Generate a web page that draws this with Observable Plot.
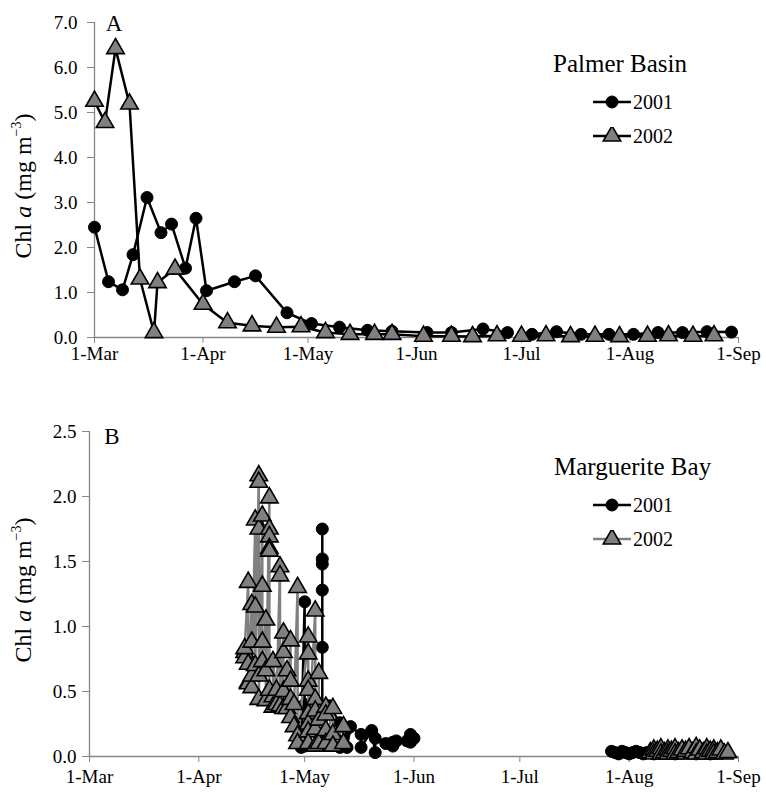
<!DOCTYPE html>
<html><head><meta charset="utf-8">
<script src="https://cdn.jsdelivr.net/npm/d3@7"></script>
<script src="https://cdn.jsdelivr.net/npm/@observablehq/plot@0.6"></script>
<style>
body{margin:0;background:#fff;font-family:"Liberation Serif","Times New Roman",serif;color:#000;}
#wrap{position:relative;width:766px;height:792px;overflow:hidden;font-family:"Liberation Serif","Times New Roman",serif;}
#wrap svg text{font-family:"Liberation Serif","Times New Roman",serif !important;}
.panel{position:absolute;left:0;}
.ylab{position:absolute;font-size:24px;transform:translate(-50%,-50%) rotate(-90deg);white-space:nowrap;line-height:1;font-family:"Liberation Serif",serif;}
.ylab sup{font-size:14px;vertical-align:10px;line-height:0;}
.plab{position:absolute;font-size:23px;transform:translate(-50%,-50%);line-height:1;font-family:"Liberation Serif",serif;}
.legtitle{position:absolute;font-size:25px;line-height:1;white-space:nowrap;transform:translateY(-50%);font-family:"Liberation Serif",serif;}
.legrow{position:absolute;font-size:20px;line-height:1;display:flex;align-items:center;transform:translateY(-50%);font-family:"Liberation Serif",serif;}
.legrow svg{display:block;margin-right:2px;}
</style>
</head><body>
<div id="wrap"></div>
<script>
// ---------- data ----------
const monthTicks = ["03-01","04-01","05-01","06-01","07-01","08-01","09-01"];
const monthLabels = ["1-Mar","1-Apr","1-May","1-Jun","1-Jul","1-Aug","1-Sep"];
const yTicksA = [0,1,2,3,4,5,6,7];
const yTicksB = [0,0.5,1,1.5,2,2.5];
const seriesNames = ["2001","2002"];

// Panel A: Palmer Basin
const pb2001Dates = ["03-01","03-05","03-09","03-12","03-16","03-20","03-23","03-27","03-30","04-02","04-10","04-16","04-25","05-02","05-10","05-18","05-25","06-04","06-11","06-20","06-27","07-04","07-11","07-18","07-26","08-02","08-09","08-16","08-23","08-30"];
const pb2001Vals  = [2.45,1.24,1.06,1.84,3.11,2.33,2.52,1.54,2.65,1.04,1.24,1.37,0.55,0.31,0.23,0.16,0.14,0.11,0.11,0.19,0.11,0.07,0.13,0.07,0.07,0.07,0.11,0.11,0.13,0.12];
const pb2002Dates = ["03-01","03-04","03-07","03-11","03-14","03-18","03-19","03-24","04-01","04-08","04-15","04-22","04-29","05-06","05-13","05-20","05-25","06-03","06-11","06-17","06-24","07-01","07-08","07-15","07-22","07-29","08-06","08-12","08-19","08-25"];
const pb2002Vals  = [5.25,4.78,6.42,5.19,1.30,0.11,1.22,1.52,0.74,0.33,0.26,0.23,0.24,0.11,0.07,0.07,0.07,0.03,0.03,0.02,0.04,0.03,0.04,0.02,0.03,0.02,0.03,0.04,0.03,0.04];

// Panel B: Marguerite Bay
const mb2001Dates = ["04-30","05-01","05-01","05-01","05-06","05-06","05-06","05-06","05-06","05-06","05-06","05-06","05-08","05-11","05-11","05-13","05-13","05-14","05-17","05-17","05-20","05-21","05-21","05-24","05-26","05-26","05-27","05-30","05-31","05-31","06-01",
  "07-27","07-28","07-29","07-30","07-31","08-01","08-02","08-03","08-04","08-05","08-06","08-08","08-10","08-12","08-14","08-16","08-18","08-20","08-22","08-24"];
const mb2001Vals  = [0.07,1.19,0.40,0.08,0.10,0.84,1.28,1.48,1.52,1.75,0.30,0.12,0.39,0.26,0.07,0.21,0.07,0.23,0.17,0.07,0.20,0.03,0.14,0.10,0.11,0.08,0.12,0.12,0.17,0.11,0.14,
  0.04,0.03,0.02,0.04,0.03,0.02,0.03,0.04,0.03,0.02,0.03,0.02,0.03,0.04,0.02,0.03,0.04,0.02,0.03,0.02];
const mb2002Dates = ["04-14","04-14","04-14","04-15","04-15","04-15","04-15","04-16","04-16","04-16","04-16","04-17","04-17","04-17","04-18","04-18","04-18","04-18","04-18","04-19","04-19","04-19","04-19","04-20","04-20","04-20",
  "04-21","04-21","04-21","04-21","04-21","04-21","04-22","04-22","04-22","04-23","04-23","04-24","04-24","04-24","04-25","04-25","04-25","04-25","04-26","04-26","04-27","04-27","04-27","04-27","04-28","04-28","04-29","04-29","04-29",
  "05-02","05-02","05-02","05-02","05-02","05-02","05-02","05-02","05-04","05-04","05-04","05-04","05-04","05-05","05-05","05-05","05-07","05-07","05-07","05-07","05-09","05-09","05-09","05-12","05-12",
  "08-07","08-08","08-08","08-09","08-10","08-10","08-11","08-12","08-12","08-13","08-14","08-14","08-15","08-16","08-17","08-17","08-18","08-19","08-20","08-20","08-21","08-22","08-23","08-23","08-24","08-25","08-25","08-26","08-27","08-28","08-29"];
const mb2002Vals  = [0.80,0.76,0.83,1.34,0.71,0.57,0.56,1.17,0.88,0.53,0.62,1.82,1.15,0.70,2.16,2.11,1.75,0.62,0.44,1.85,1.31,0.88,0.73,1.05,0.66,0.43,
  1.99,1.75,1.69,1.60,1.58,0.51,0.46,0.38,0.73,0.51,0.40,1.46,1.39,0.39,0.95,0.80,0.50,0.37,0.66,0.37,0.89,0.58,0.44,0.30,0.23,0.40,1.30,0.16,0.10,
  0.92,0.79,0.58,0.51,0.33,0.25,0.19,0.10,1.12,0.44,0.35,0.21,0.08,0.28,0.64,0.10,0.38,0.32,0.20,0.10,0.37,0.17,0.08,0.23,0.10,
  0.03,0.05,0.02,0.04,0.06,0.02,0.03,0.05,0.02,0.04,0.06,0.02,0.03,0.05,0.02,0.04,0.06,0.03,0.07,0.02,0.05,0.03,0.06,0.02,0.04,0.05,0.02,0.03,0.05,0.02,0.03];

// ---------- helpers ----------
const parse = s => new Date(Date.UTC(2001, +s.slice(0,2) - 1, +s.slice(3,5)));
const rows = (dates, vals) => dates.map((d, i) => ({date: parse(d), value: vals[i], period: +d.slice(0,2) >= 7 ? "late" : "early"}));
const tickDates = monthTicks.map(parse);
const labelMap = new Map(tickDates.map((d, i) => [+d, monthLabels[i]]));
const xDomain = [tickDates[0], tickDates[tickDates.length - 1]];
const AXIS = "#868686";
const FONT = '"Liberation Serif","Times New Roman",serif';
const fmt1 = d3.format(".1f");

function panel({data1, data2, yDomain, yTicks, marginLeft, marginTop, marginBottom, height, xPad, yPad, line2Color}) {
  return Plot.plot({
    width: 766, height, marginLeft, marginRight: 28, marginTop, marginBottom,
    style: {fontFamily: FONT, fontSize: "19px", color: "#000", background: "transparent", overflow: "visible"},
    x: {type: "utc", domain: xDomain},
    y: {domain: yDomain},
    marks: [
      Plot.axisX({ticks: tickDates, tickFormat: d => labelMap.get(+d), tickSize: 6, tickPadding: xPad, stroke: AXIS, label: null, fontSize: 19, fontFamily: FONT, fill: "#000"}),
      Plot.axisY({ticks: yTicks, tickFormat: fmt1, tickSize: 7, tickPadding: yPad, stroke: AXIS, label: null, fontSize: 19, fontFamily: FONT, fill: "#000"}),
      Plot.ruleY([yDomain[0]], {stroke: AXIS, strokeWidth: 1.3}),
      Plot.ruleX([xDomain[0]], {stroke: AXIS, strokeWidth: 1.3}),
      Plot.line(data1, {x: "date", y: "value", z: "period", stroke: "#000", strokeWidth: 2.5}),
      Plot.dot(data1, {x: "date", y: "value", r: 6, fill: "#000", stroke: "#000", strokeWidth: 1}),
      Plot.line(data2, {x: "date", y: "value", z: "period", stroke: line2Color, strokeWidth: 2.5}),
      Plot.dot(data2, {x: "date", y: "value", symbol: "triangle", r: 6.5, fill: "#808080", stroke: "#000", strokeWidth: 1.6})
    ]
  });
}

const wrap = document.getElementById("wrap");

const A = panel({data1: rows(pb2001Dates, pb2001Vals), data2: rows(pb2002Dates, pb2002Vals), yDomain: [0,7], yTicks: yTicksA,
  marginLeft: 94, marginTop: 22, marginBottom: 33, height: 370, xPad: 3, yPad: 10, line2Color: "#000"});
A.classList.add("panel"); A.style.top = "0px";
wrap.appendChild(A);

const B = panel({data1: rows(mb2001Dates, mb2001Vals), data2: rows(mb2002Dates, mb2002Vals), yDomain: [0,2.5], yTicks: yTicksB,
  marginLeft: 89, marginTop: 61, marginBottom: 36, height: 422, xPad: 7, yPad: 6, line2Color: "#808080"});
B.classList.add("panel"); B.style.top = "370px";
wrap.appendChild(B);

// ---------- labels & legends ----------
function add(html, cls, left, top) {
  const el = document.createElement("div");
  el.className = cls; el.innerHTML = html;
  el.style.left = left + "px"; el.style.top = top + "px";
  wrap.appendChild(el);
}
const ylabHTML = 'Chl <i>a</i> (mg m<sup>&minus;3</sup>)';
add(ylabHTML, "ylab", 23, 186);
add(ylabHTML, "ylab", 23, 590);
add("A", "plab", 114, 23);
add("B", "plab", 112, 436);

const triPath = d3.symbol(d3.symbolTriangle, 6.5 * 6.5 * Math.PI)();
function legendSym(kind, lineColor) {
  const mark = kind === "circle"
    ? '<circle cx="19" cy="9" r="6" fill="#000" stroke="#000"/>'
    : `<path d="${triPath}" transform="translate(19,9)" fill="#808080" stroke="#000" stroke-width="1.6"/>`;
  return `<svg width="38" height="18"><line x1="0" x2="38" y1="9" y2="9" stroke="${lineColor}" stroke-width="2.5"/>${mark}</svg>`;
}
function legend(title, x, y, line2Color) {
  add(title, "legtitle", x, y);
  add(legendSym("circle", "#000") + seriesNames[0], "legrow", 593, y + 39);
  add(legendSym("triangle", line2Color) + seriesNames[1], "legrow", 593, y + 73);
}
legend("Palmer Basin", 553, 63, "#000");
legend("Marguerite Bay", 554, 466, "#808080");
</script>
</body></html>
